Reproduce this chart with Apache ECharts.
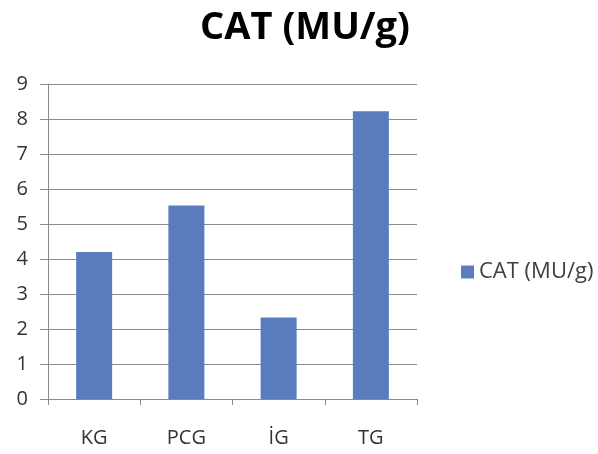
<!DOCTYPE html>
<html>
<head>
<meta charset="utf-8">
<script src="https://cdn.jsdelivr.net/npm/echarts@6/dist/echarts.min.js"></script>
<style>html,body{margin:0;padding:0;background:#fff}#c{width:598px;height:454px}</style>
</head>
<body>
<div id="c"></div>
<script>
const categories = ['KG', 'PCG', 'İG', 'TG'];
const values = [4.2, 5.53, 2.33, 8.22];
const seriesName = 'CAT (MU/g)';
const titleText = 'CAT (MU/g)';

const chart = echarts.init(document.getElementById('c'));
const font = '"Open Sans", Lato, sans-serif';
chart.setOption({
  animation: false,
  title: {
    text: titleText, left: 300, top: 4, textAlign: 'center',
    textStyle: { fontFamily: font, fontSize: 38, fontWeight: 'bold', color: '#000' }
  },
  legend: {
    data: [seriesName], left: 456, top: 256, orient: 'vertical',
    itemWidth: 13, itemHeight: 13, itemGap: 6,
    icon: 'rect',
    textStyle: { fontFamily: font, fontSize: 22, color: '#404040' }
  },
  grid: { left: 48, right: 181, top: 84, bottom: 55 },
  xAxis: {
    type: 'category', data: categories,
    axisLine: { lineStyle: { color: '#8a8a8a', width: 1 } },
    axisTick: { show: true, length: 6, lineStyle: { color: '#8a8a8a' } },
    axisLabel: { fontFamily: font, fontSize: 20, color: '#333', margin: 29 }
  },
  yAxis: {
    type: 'value', min: 0, max: 9, interval: 1,
    axisLine: { show: true, lineStyle: { color: '#8a8a8a' } },
    axisTick: { show: true, length: 8, lineStyle: { color: '#8a8a8a' } },
    axisLabel: { fontFamily: font, fontSize: 20, color: '#333', margin: 20 },
    splitLine: { lineStyle: { color: '#8a8a8a' } }
  },
  series: [{
    name: seriesName, type: 'bar', data: values,
    barWidth: 36,
    itemStyle: { color: '#5a7cbe' }
  }]
});
</script>
</body>
</html>
